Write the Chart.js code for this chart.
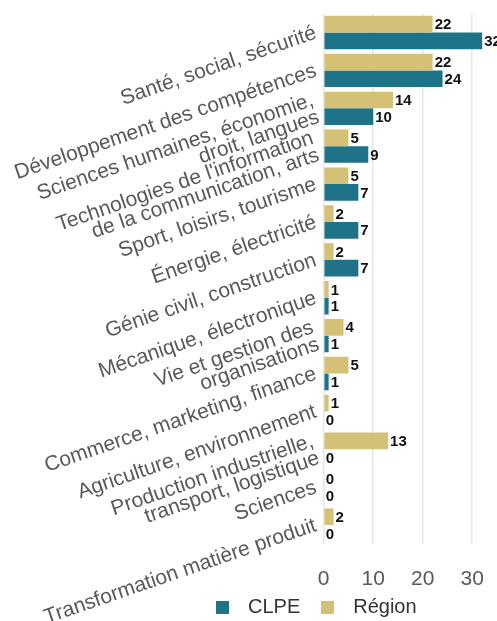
<!DOCTYPE html>
<html><head><meta charset="utf-8">
<script src="https://cdn.jsdelivr.net/npm/chart.js@4"></script>
<style>html,body{margin:0;padding:0;background:#fff;overflow:hidden}#wrap{width:497px;height:621px;position:relative}</style>
</head><body><div id="wrap"><canvas id="c"></canvas></div>
<script>
const categories = [
  'Santé, social, sécurité',
  'Développement des compétences',
  ['Sciences humaines, économie,', 'droit, langues'],
  ["Technologies de l'information", 'de la communication, arts'],
  'Sport, loisirs, tourisme',
  'Énergie, électricité',
  'Génie civil, construction',
  'Mécanique, électronique',
  ['Vie et gestion des', 'organisations'],
  'Commerce, marketing, finance',
  'Agriculture, environnement',
  ['Production industrielle,', 'transport, logistique'],
  'Sciences',
  'Transformation matière produit'
];
const seriesNames = ['CLPE', 'Région'];
const clpeValues   = [32, 24, 10, 9, 7, 7, 7, 1, 1, 1, 0, 0, 0, 0];
const regionValues = [22, 22, 14, 5, 5, 2, 2, 1, 4, 5, 1, 13, 0, 2];
const xTickLabels = [0, 10, 20, 30];

const TEAL = '#1F7389';
const KHAKI = '#D4C175';
const FONT = "'Liberation Sans', Arial, sans-serif";

function squareIcon(color) {
  const c = document.createElement('canvas');
  c.width = 13; c.height = 13;
  const g = c.getContext('2d');
  g.fillStyle = color;
  g.fillRect(0, 0, 13, 13);
  return c;
}

const valueLabels = {
  id: 'valueLabels',
  afterLayout(chart) {
    if (chart.legend) { chart.legend.left = 126.6; }
  },
  afterDatasetsDraw(chart) {
    const ctx = chart.ctx;
    ctx.save();
    ctx.font = 'bold 15px ' + FONT;
    ctx.fillStyle = '#111';
    ctx.textAlign = 'left';
    ctx.textBaseline = 'middle';
    chart.data.datasets.forEach((ds, i) => {
      const meta = chart.getDatasetMeta(i);
      meta.data.forEach((el, j) => {
        ctx.fillText(String(ds.data[j]), el.x + 2, el.y + 1);
      });
    });
    ctx.restore();
  }
};

new Chart(document.getElementById('c'), {
  type: 'bar',
  data: {
    labels: categories,
    datasets: [
      { label: seriesNames[1], data: regionValues, backgroundColor: KHAKI },
      { label: seriesNames[0], data: clpeValues, backgroundColor: TEAL }
    ]
  },
  options: {
    indexAxis: 'y',
    responsive: true,
    maintainAspectRatio: false,
    animation: false,
    devicePixelRatio: 1,
    categoryPercentage: 0.88,
    barPercentage: 1,
    layout: { padding: { top: 13.6, left: 0, right: 0, bottom: -6 } },
    scales: {
      x: {
        min: 0, max: 35,
        border: { display: false },
        grid: { color: '#E6E6E6', lineWidth: 1.5, drawTicks: false },
        ticks: {
          stepSize: 5,
          padding: 23,
          minRotation: 0, maxRotation: 0,
          color: '#595959',
          font: { family: FONT, size: 21 },
          callback: (v) => xTickLabels.includes(v) ? String(v) : ''
        },
        afterFit: (s) => { s.height = 41; s.paddingLeft = 0; s.paddingRight = 0; }
      },
      y: {
        border: { display: false },
        grid: { display: false, drawTicks: false },
        ticks: {
          autoSkip: false,
          minRotation: 19, maxRotation: 19,
          padding: 8,
          color: '#595959',
          font: { family: FONT, size: 21, lineHeight: 0.86 }
        },
        afterFit: (s) => { s.width = 323.7; s.paddingTop = 0; s.paddingBottom = 0; }
      }
    },
    plugins: {
      legend: {
        position: 'bottom',
        reverse: true,
        labels: {
          usePointStyle: true,
          pointStyleWidth: 31,
          boxHeight: 13,
          padding: 12,
          color: '#333',
          font: { family: FONT, size: 20 },
          generateLabels: (chart) => {
            const items = Chart.defaults.plugins.legend.labels.generateLabels(chart);
            items.forEach(it => { it.pointStyle = squareIcon(it.fillStyle); });
            return items;
          }
        }
      },
      tooltip: { enabled: false }
    }
  },
  plugins: [valueLabels]
});
</script></body></html>
